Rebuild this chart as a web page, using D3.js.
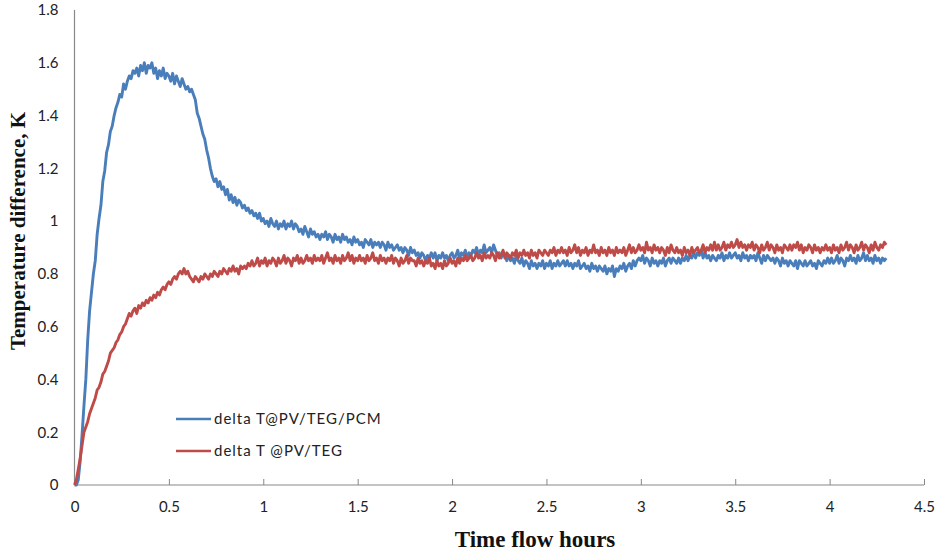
<!DOCTYPE html>
<html><head><meta charset="utf-8">
<script src="https://cdn.jsdelivr.net/npm/d3@7/dist/d3.min.js"></script>
<style>body{margin:0;background:#fff}svg{display:block}</style>
</head><body>
<script>
// readings every 0.01 h from 0 to 4.30 h
const timeStep = 0.01;
const seriesNames = ["delta T@PV/TEG/PCM", "delta T @PV/TEG"];
const xTicks = [0, 0.5, 1, 1.5, 2, 2.5, 3, 3.5, 4, 4.5];
const yTicks = [0, 0.2, 0.4, 0.6, 0.8, 1, 1.2, 1.4, 1.6, 1.8];
const pvTegPcm = [
0.00,0.00,0.02,0.09,0.19,0.30,0.40,0.55,0.66,0.73,
0.80,0.85,0.95,1.01,1.06,1.15,1.19,1.26,1.29,1.34,
1.36,1.40,1.43,1.45,1.48,1.47,1.52,1.50,1.53,1.55,
1.54,1.57,1.56,1.58,1.55,1.59,1.57,1.60,1.56,1.59,
1.58,1.60,1.56,1.58,1.54,1.57,1.55,1.58,1.54,1.56,
1.55,1.53,1.56,1.52,1.55,1.53,1.51,1.54,1.52,1.50,
1.51,1.49,1.50,1.48,1.46,1.41,1.39,1.36,1.33,1.31,
1.27,1.24,1.20,1.17,1.15,1.16,1.13,1.15,1.12,1.13,
1.10,1.12,1.08,1.10,1.07,1.09,1.06,1.08,1.07,1.05,
1.06,1.04,1.05,1.03,1.04,1.02,1.03,1.01,1.03,1.00,
1.01,0.99,1.00,0.98,1.01,0.99,0.98,1.00,0.97,0.99,
0.98,1.00,0.97,0.99,0.98,1.00,0.97,0.99,0.98,0.96,
0.97,0.95,0.98,0.96,0.94,0.97,0.95,0.96,0.94,0.95,
0.93,0.95,0.94,0.96,0.93,0.95,0.94,0.92,0.95,0.93,
0.94,0.92,0.95,0.93,0.94,0.92,0.93,0.91,0.94,0.92,
0.93,0.91,0.92,0.90,0.93,0.92,0.91,0.93,0.90,0.92,
0.91,0.92,0.90,0.92,0.91,0.89,0.92,0.90,0.91,0.89,
0.90,0.91,0.89,0.90,0.88,0.90,0.89,0.87,0.90,0.88,
0.89,0.87,0.88,0.86,0.88,0.87,0.85,0.87,0.86,0.88,
0.86,0.88,0.85,0.87,0.86,0.88,0.86,0.87,0.85,0.87,
0.88,0.86,0.87,0.89,0.86,0.88,0.87,0.89,0.86,0.88,
0.87,0.89,0.88,0.90,0.87,0.89,0.88,0.91,0.88,0.89,
0.90,0.88,0.91,0.89,0.87,0.88,0.86,0.88,0.87,0.85,
0.87,0.85,0.86,0.84,0.87,0.85,0.84,0.86,0.83,0.85,
0.84,0.82,0.85,0.83,0.84,0.82,0.84,0.83,0.85,0.82,
0.84,0.83,0.85,0.82,0.84,0.83,0.85,0.83,0.84,0.85,
0.83,0.85,0.83,0.84,0.82,0.84,0.83,0.85,0.82,0.83,
0.84,0.82,0.83,0.81,0.84,0.82,0.83,0.81,0.83,0.82,
0.81,0.83,0.80,0.82,0.81,0.83,0.79,0.82,0.81,0.83,
0.82,0.84,0.81,0.83,0.84,0.82,0.85,0.83,0.85,0.86,
0.85,0.87,0.84,0.86,0.85,0.83,0.86,0.84,0.85,0.83,
0.85,0.84,0.86,0.83,0.85,0.86,0.84,0.86,0.85,0.84,
0.86,0.84,0.86,0.85,0.87,0.85,0.87,0.86,0.88,0.86,
0.88,0.87,0.89,0.86,0.88,0.86,0.87,0.85,0.87,0.86,
0.85,0.87,0.86,0.88,0.85,0.87,0.86,0.88,0.86,0.87,
0.88,0.86,0.87,0.85,0.88,0.86,0.87,0.85,0.87,0.86,
0.87,0.85,0.88,0.86,0.84,0.87,0.85,0.87,0.86,0.85,
0.86,0.84,0.86,0.85,0.83,0.86,0.84,0.85,0.83,0.85,
0.84,0.83,0.85,0.82,0.85,0.84,0.83,0.85,0.83,0.84,
0.85,0.83,0.84,0.82,0.85,0.84,0.83,0.85,0.84,0.86,
0.84,0.86,0.84,0.85,0.87,0.84,0.86,0.85,0.83,0.86,
0.85,0.87,0.85,0.86,0.84,0.87,0.85,0.86,0.88,0.85,
0.87,0.85,0.86,0.84,0.87,0.85,0.86,0.84,0.86,0.85,
0.86
];
const pvTeg = [
0.00,0.02,0.06,0.10,0.15,0.20,0.22,0.24,0.27,0.29,
0.31,0.33,0.36,0.37,0.39,0.42,0.43,0.45,0.47,0.50,
0.51,0.52,0.54,0.55,0.57,0.58,0.60,0.61,0.63,0.65,
0.64,0.66,0.67,0.65,0.68,0.67,0.69,0.68,0.70,0.69,
0.71,0.70,0.72,0.71,0.73,0.72,0.74,0.75,0.74,0.76,
0.77,0.76,0.78,0.79,0.78,0.80,0.81,0.80,0.82,0.80,
0.81,0.79,0.78,0.77,0.79,0.78,0.77,0.79,0.78,0.80,
0.79,0.78,0.80,0.79,0.81,0.80,0.79,0.81,0.80,0.82,
0.81,0.80,0.82,0.81,0.83,0.81,0.82,0.80,0.83,0.82,
0.83,0.82,0.84,0.83,0.85,0.83,0.84,0.86,0.83,0.85,
0.84,0.86,0.83,0.85,0.84,0.86,0.85,0.83,0.86,0.84,
0.85,0.87,0.84,0.86,0.85,0.83,0.86,0.85,0.87,0.84,
0.86,0.84,0.85,0.87,0.85,0.86,0.84,0.87,0.85,0.86,
0.85,0.87,0.84,0.86,0.88,0.85,0.86,0.84,0.87,0.85,
0.86,0.84,0.87,0.85,0.86,0.88,0.85,0.87,0.84,0.86,
0.85,0.87,0.85,0.86,0.84,0.87,0.85,0.86,0.88,0.85,
0.86,0.84,0.87,0.85,0.86,0.84,0.86,0.85,0.87,0.84,
0.86,0.85,0.83,0.86,0.84,0.85,0.87,0.84,0.86,0.85,
0.85,0.83,0.86,0.84,0.85,0.83,0.85,0.84,0.86,0.83,
0.84,0.82,0.85,0.83,0.84,0.82,0.85,0.83,0.84,0.86,
0.84,0.85,0.83,0.86,0.84,0.86,0.85,0.87,0.85,0.86,
0.87,0.85,0.86,0.88,0.86,0.87,0.85,0.88,0.86,0.87,
0.86,0.88,0.87,0.85,0.88,0.86,0.87,0.89,0.86,0.88,
0.87,0.86,0.88,0.87,0.89,0.86,0.88,0.87,0.89,0.87,
0.88,0.86,0.89,0.87,0.88,0.86,0.89,0.88,0.87,0.89,
0.88,0.87,0.89,0.88,0.90,0.87,0.89,0.88,0.90,0.88,
0.89,0.87,0.90,0.88,0.89,0.91,0.88,0.90,0.87,0.89,
0.88,0.90,0.87,0.89,0.88,0.91,0.88,0.89,0.87,0.90,
0.88,0.89,0.87,0.90,0.88,0.89,0.87,0.90,0.88,0.89,
0.88,0.90,0.87,0.89,0.91,0.88,0.90,0.88,0.89,0.91,
0.89,0.90,0.88,0.92,0.89,0.90,0.88,0.91,0.89,0.90,
0.88,0.90,0.89,0.87,0.90,0.88,0.91,0.89,0.88,0.90,
0.88,0.89,0.87,0.90,0.88,0.89,0.87,0.90,0.88,0.89,
0.90,0.88,0.89,0.91,0.88,0.90,0.89,0.91,0.89,0.92,
0.89,0.91,0.89,0.90,0.92,0.89,0.91,0.90,0.92,0.90,
0.91,0.93,0.90,0.92,0.90,0.91,0.89,0.91,0.90,0.92,
0.89,0.91,0.90,0.88,0.91,0.89,0.90,0.92,0.89,0.91,
0.90,0.88,0.91,0.89,0.90,0.88,0.91,0.90,0.89,0.91,
0.89,0.91,0.90,0.92,0.89,0.91,0.88,0.90,0.89,0.91,
0.90,0.88,0.91,0.89,0.90,0.88,0.90,0.89,0.91,0.89,
0.90,0.88,0.91,0.89,0.90,0.88,0.91,0.89,0.90,0.92,
0.89,0.91,0.90,0.88,0.91,0.89,0.90,0.92,0.89,0.91,
0.90,0.88,0.91,0.89,0.92,0.90,0.89,0.91,0.90,0.92,
0.91
];
const colors = ["#4a7ebb", "#be4b48"];

const W = 938, H = 557;
const svg = d3.select("body").append("svg").attr("width", W).attr("height", H);
const x = d3.scaleLinear().domain([0, 4.5]).range([74.5, 924]);
const y = d3.scaleLinear().domain([0, 1.8]).range([485, 10]);

const tickFont = "Lato, 'Open Sans', sans-serif";

// axes
svg.append("line").attr("x1", x(0)).attr("x2", x(0)).attr("y1", y(1.8)).attr("y2", y(0))
  .attr("stroke", "#888").attr("stroke-width", 1.2);
svg.append("line").attr("x1", x(0)).attr("x2", x(4.5)).attr("y1", y(0)).attr("y2", y(0))
  .attr("stroke", "#888").attr("stroke-width", 1.2);

const xAxis = d3.axisBottom(x).tickValues(xTicks).tickSize(-6).tickPadding(16)
  .tickFormat(d => String(d));
const gx = svg.append("g").attr("transform", `translate(0,${y(0)})`).call(xAxis);
gx.select(".domain").remove();
gx.selectAll(".tick line").attr("stroke", "#888");
gx.selectAll(".tick text").attr("font-family", tickFont).attr("font-size", 15).attr("fill", "#222");

const yAxis = d3.axisLeft(y).tickValues(yTicks).tickSize(0).tickPadding(16)
  .tickFormat(d => String(d));
const gy = svg.append("g").attr("transform", `translate(${x(0)},0)`).call(yAxis);
gy.select(".domain").remove();
gy.selectAll(".tick text").attr("font-family", tickFont).attr("font-size", 15).attr("fill", "#222");

// lines
const line = d3.line().x((d, i) => x(i * timeStep)).y(d => y(d));
[pvTegPcm, pvTeg].forEach((s, k) => {
  svg.append("path").datum(s).attr("d", line).attr("fill", "none")
    .attr("stroke", colors[k]).attr("stroke-width", 2.9).attr("stroke-linejoin", "round");
});

// legend
const legY = [419, 451];
seriesNames.forEach((n, k) => {
  svg.append("line").attr("x1", 176).attr("x2", 211).attr("y1", legY[k]).attr("y2", legY[k])
    .attr("stroke", colors[k]).attr("stroke-width", 2.6);
  svg.append("text").attr("x", 214).attr("y", legY[k] + 5).text(n)
    .attr("font-family", tickFont).attr("font-size", 15).attr("letter-spacing", 1)
    .attr("fill", "#222");
});

// titles
svg.append("text").attr("x", 535).attr("y", 547).attr("text-anchor", "middle")
  .attr("font-family", "'Liberation Serif', 'Times New Roman', serif").attr("font-weight", "bold")
  .attr("font-size", 23).attr("fill", "#111").text("Time flow hours");
svg.append("text").attr("transform", "translate(25,231) rotate(-90)").attr("text-anchor", "middle")
  .attr("font-family", "'Liberation Serif', 'Times New Roman', serif").attr("font-weight", "bold")
  .attr("font-size", 21).attr("fill", "#111").text("Temperature difference,  K");
</script>
</body></html>
